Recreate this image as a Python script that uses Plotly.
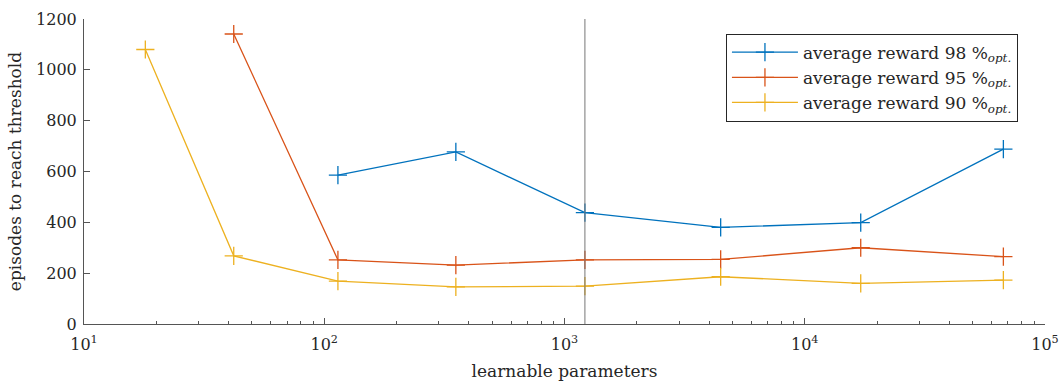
import plotly.graph_objects as go

params = [18, 42, 114, 353, 1216, 4467, 17100, 67100]
reward98 = [None, None, 586, 677, 438, 380, 399, 688]
reward95 = [None, 1141, 252, 232, 252, 254, 300, 265]
reward90 = [1080, 268, 169, 146, 149, 186, 160, 173]
names = ["average reward 98 %<sub><i>opt.</i></sub>",
         "average reward 95 %<sub><i>opt.</i></sub>",
         "average reward 90 %<sub><i>opt.</i></sub>"]
colors = ["#0072BD", "#D95319", "#EDB120"]
vline_x = 1216

FONT = "DejaVu Serif"
TXT = "#262626"
AX = "#555555"

fig = go.Figure()
for ys, nm, c in zip([reward98, reward95, reward90], names, colors):
    xs = [p for p, v in zip(params, ys) if v is not None]
    vs = [v for v in ys if v is not None]
    fig.add_trace(go.Scatter(
        x=xs, y=vs, name=nm, mode="lines+markers",
        line=dict(color=c, width=1.3),
        marker=dict(symbol="cross-thin", size=13, line=dict(color=c, width=1.3)),
    ))

fig.add_shape(type="line", x0=vline_x, x1=vline_x, xref="x", y0=0, y1=1200, yref="y",
              line=dict(color="#777777", width=1))

minor_vals = [m * 10 ** k for k in range(1, 5) for m in range(2, 10)]

fig.update_layout(
    width=1060, height=381,
    margin=dict(l=84, r=15, t=19, b=57),
    paper_bgcolor="white", plot_bgcolor="white",
    font=dict(family=FONT, size=16, color=TXT),
    showlegend=True,
    legend=dict(x=0.668, y=0.952, xanchor="left", yanchor="top",
                bordercolor=TXT, borderwidth=1, bgcolor="white",
                font=dict(family=FONT, size=17, color=TXT),
                itemwidth=66, tracegroupgap=0),
    xaxis=dict(type="log", range=[1, 5], showgrid=False, zeroline=False,
               showline=True, linecolor=AX, linewidth=1, automargin=False,
               ticks="inside", ticklen=6, tickcolor=AX, ticklabelstandoff=6,
               tickvals=[10, 100, 1000, 10000, 100000],
               ticktext=["10<sup>1</sup>", "10<sup>2</sup>", "10<sup>3</sup>", "10<sup>4</sup>", "10<sup>5</sup>"],
               minor=dict(tickvals=minor_vals, ticks="inside", ticklen=3, tickcolor=AX, showgrid=False),
               title=dict(text="learnable parameters", standoff=12, font=dict(size=17)),
               tickfont=dict(size=16)),
    yaxis=dict(range=[0, 1200], dtick=200, showgrid=False, zeroline=False,
               showline=True, linecolor=AX, linewidth=1, automargin=False,
               ticks="inside", ticklen=6, tickcolor=AX, ticklabelstandoff=3,
               title=dict(text="episodes to reach threshold", standoff=10, font=dict(size=17)),
               tickfont=dict(size=16)),
)

fig.write_html("out.html")
